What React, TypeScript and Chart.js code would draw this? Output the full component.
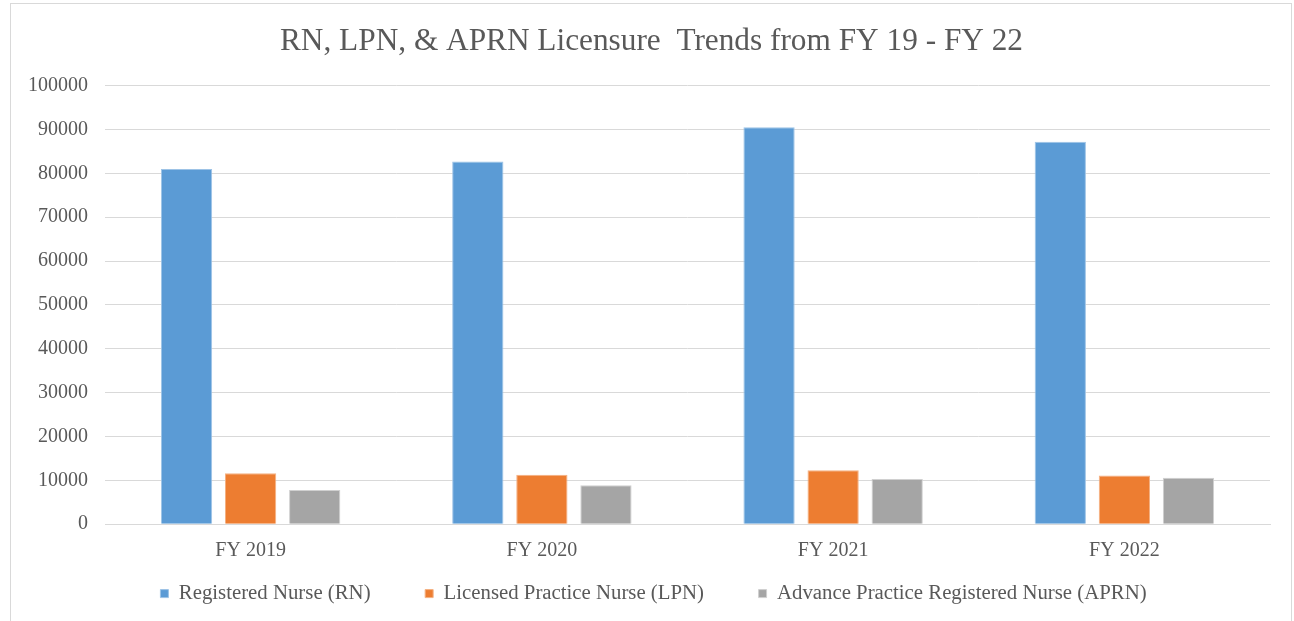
import React, { useEffect, useRef } from "react";
import { Chart, registerables } from "chart.js";

Chart.register(...registerables);

const categories = ["FY 2019", "FY 2020", "FY 2021", "FY 2022"];
const rnValues = [81000, 82700, 90500, 87200];
const lpnValues = [11600, 11300, 12300, 11100];
const aprnValues = [7800, 8900, 10300, 10600];
const seriesNames = [
  "Registered Nurse (RN)",
  "Licensed Practice Nurse (LPN)",
  "Advance Practice Registered Nurse (APRN)",
];
const titleText = "RN, LPN, & APRN Licensure  Trends from FY 19 - FY 22";

const FONT = "'Liberation Serif', 'Times New Roman', serif";
const TEXT = "#595959";
const LEGEND_GAP = "        ";

const boxShift = {
  id: "boxShift",
  afterLayout(chart: any) {
    if (chart.legend) {
      chart.legend.left += 13;
      chart.legend.right += 13;
    }
    if (chart.titleBlock) {
      chart.titleBlock.left += 11;
      chart.titleBlock.right += 11;
    }
  },
};

export default function App() {
  const ref = useRef<HTMLCanvasElement | null>(null);
  useEffect(() => {
    if (!ref.current) return;
    const chart = new Chart(ref.current, {
      type: "bar",
      data: {
        labels: categories,
        datasets: [
          { label: seriesNames[0], data: rnValues, backgroundColor: "#5B9BD5", borderColor: "#9DC3E6", borderWidth: 1 },
          { label: seriesNames[1], data: lpnValues, backgroundColor: "#ED7D31", borderColor: "#F4B183", borderWidth: 1 },
          { label: seriesNames[2], data: aprnValues, backgroundColor: "#A5A5A5", borderColor: "#D0D0D0", borderWidth: 1 },
        ],
      },
      plugins: [boxShift],
      options: {
        responsive: false,
        animation: false,
        datasets: { bar: { categoryPercentage: 0.66, barPercentage: 0.8 } },
        layout: { padding: { left: 11, right: 24, top: 8, bottom: 7 } },
        plugins: {
          title: {
            display: true,
            text: titleText,
            color: TEXT,
            font: { family: FONT, size: 31.3, weight: "normal" },
            padding: { top: 15, bottom: 25 },
          },
          legend: {
            position: "bottom",
            labels: {
              color: TEXT,
              font: { family: FONT, size: 20.8 },
              boxWidth: 8,
              boxHeight: 8,
              padding: 13,
              generateLabels: (c: any) => {
                const items = Chart.defaults.plugins.legend.labels.generateLabels(c);
                return items.map((it: any, i: number) => ({
                  ...it,
                  text: i < items.length - 1 ? it.text + LEGEND_GAP : it.text,
                }));
              },
            },
          },
          tooltip: { enabled: false },
        },
        scales: {
          x: {
            grid: { display: false },
            border: { display: true, color: "#d9d9d9" },
            ticks: { color: TEXT, font: { family: FONT, size: 20 }, padding: 7 },
          },
          y: {
            min: 0,
            max: 100000,
            ticks: {
              stepSize: 10000,
              color: TEXT,
              font: { family: FONT, size: 20 },
              padding: 17,
              callback: (v: any) => String(v),
            },
            grid: { color: "#d9d9d9", drawTicks: false },
            border: { display: false },
          },
        },
      },
    });
    return () => chart.destroy();
  }, []);
  return (
    <div style={{ position: "fixed", left: 0, top: 0, width: 1294, height: 621, background: "#fff" }}>
      <canvas ref={ref} width={1294} height={621} style={{ position: "absolute", left: 0, top: 0 }} />
      <div
        style={{
          position: "absolute",
          left: 10,
          top: 3,
          width: 1282,
          height: 640,
          border: "1px solid #d9d9d9",
          boxSizing: "border-box",
          pointerEvents: "none",
        }}
      />
    </div>
  );
}
